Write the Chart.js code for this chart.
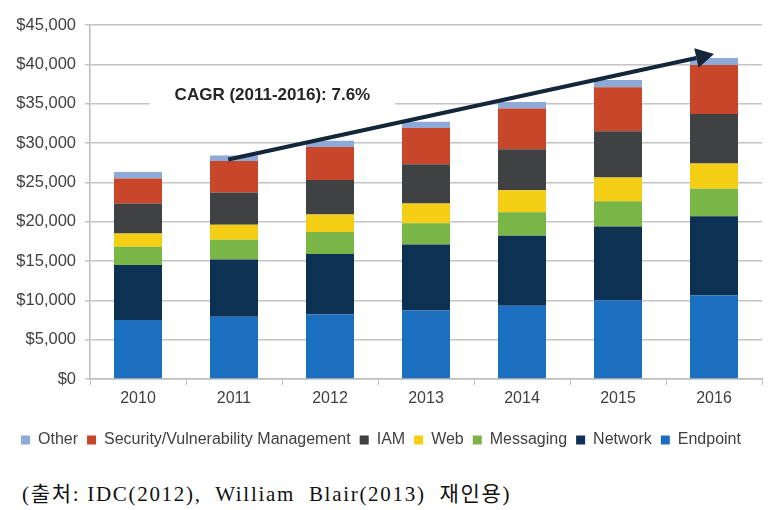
<!DOCTYPE html>
<html>
<head>
<meta charset="utf-8">
<script src="https://cdn.jsdelivr.net/npm/chart.js@4.4.1/dist/chart.umd.min.js"></script>
<style>
  body { margin: 0; background: #fff; }
  #wrap { position: relative; width: 774px; height: 510px; }
  #box { position: absolute; left: 0; top: 0; width: 774px; height: 460px; }
  #cap {
    position: absolute; left: 22px; top: 477px;
    font-family: "Liberation Serif", "Noto Sans CJK KR", serif;
    font-size: 21px; letter-spacing: 1.7px; color: #111; white-space: pre;
  }
</style>
</head>
<body>
<div id="wrap">
  <div id="box"><canvas id="bieudo" width="774" height="460"></canvas></div>
  <div id="cap">(출처: IDC(2012),  William  Blair(2013)  재인용)</div>
</div>
<script>
// du lieu doc tu hinh (don vi: trieu USD)
const nam = ["2010", "2011", "2012", "2013", "2014", "2015", "2016"];
const endpoint  = [7500, 7900, 8200, 8700, 9300, 10000, 10600];
const network   = [7000, 7300, 7700, 8400, 8900, 9400, 10100];
const messaging = [2300, 2500, 2800, 2700, 3000, 3200, 3500];
const web       = [1700, 1900, 2200, 2500, 2800, 3000, 3200];
const iam       = [3800, 4100, 4400, 5000, 5200, 5900, 6300];
const security  = [3200, 4000, 4200, 4600, 5200, 5600, 6200];
const other     = [800, 700, 800, 800, 800, 900, 900];
const cagrText = "CAGR (2011-2016): 7.6%";

const mau = {
  endpoint: "#1c6fbe",
  network: "#0c3153",
  messaging: "#79b547",
  web: "#f4cf16",
  iam: "#3f4143",
  security: "#c8462a",
  other: "#8daad9"
};

const fontChu = "'Liberation Sans', Arial, sans-serif";

// ve mui ten va nhan CAGR theo toa do cua truc
const cagrPlugin = {
  id: "cagr",
  afterDatasetsDraw(chart) {
    const ctx = chart.ctx;
    const x = chart.scales.x, y = chart.scales.y;
    const w = x.getPixelForValue(1) - x.getPixelForValue(0);

    // nhan CAGR, nen trang che duong luoi
    const tx = x.getPixelForValue(1) + w * 0.4;
    const ty = y.getPixelForValue(36000);
    ctx.save();
    ctx.font = "bold 17px " + fontChu;
    ctx.textAlign = "center";
    ctx.textBaseline = "middle";
    const tw = ctx.measureText(cagrText).width;
    ctx.fillStyle = "#fff";
    ctx.fillRect(tx - tw / 2 - 25, ty - 11, tw + 50, 22);
    ctx.fillStyle = "#262626";
    ctx.fillText(cagrText, tx, ty);

    // mui ten
    const x1 = x.getPixelForValue(1) - w * 0.06, y1 = y.getPixelForValue(27900);
    const x2 = x.getPixelForValue(6), y2 = y.getPixelForValue(41300);
    const ang = Math.atan2(y2 - y1, x2 - x1);
    const len = 18, half = 10;
    const bx = x2 - len * Math.cos(ang), by = y2 - len * Math.sin(ang);
    ctx.strokeStyle = "#14263a";
    ctx.lineWidth = 4;
    ctx.beginPath();
    ctx.moveTo(x1, y1);
    ctx.lineTo(bx, by);
    ctx.stroke();
    ctx.fillStyle = "#14263a";
    ctx.beginPath();
    ctx.moveTo(x2, y2);
    ctx.lineTo(bx + half * Math.sin(ang), by - half * Math.cos(ang));
    ctx.lineTo(bx - half * Math.sin(ang), by + half * Math.cos(ang));
    ctx.closePath();
    ctx.fill();
    ctx.restore();
  }
};

function ds(label, data, color) {
  return { label: label, data: data, backgroundColor: color, borderWidth: 0 };
}

const ctx = document.getElementById("bieudo").getContext("2d");
new Chart(ctx, {
  type: "bar",
  data: {
    labels: nam,
    datasets: [
      ds("Endpoint", endpoint, mau.endpoint),
      ds("Network", network, mau.network),
      ds("Messaging", messaging, mau.messaging),
      ds("Web", web, mau.web),
      ds("IAM", iam, mau.iam),
      ds("Security/Vulnerability Management", security, mau.security),
      ds("Other", other, mau.other)
    ]
  },
  options: {
    responsive: false,
    animation: false,
    categoryPercentage: 0.5,
    barPercentage: 1,
    layout: { padding: { top: 25, right: 12, left: 0, bottom: 2 } },
    plugins: {
      tooltip: { enabled: false },
      legend: {
        position: "bottom",
        reverse: true,
        labels: {
          boxWidth: 9,
          boxHeight: 9,
          padding: 9,
          color: "#404040",
          font: { family: fontChu, size: 16 }
        }
      }
    },
    scales: {
      x: {
        stacked: true,
        afterFit(scale) { scale.height = 44; },
        grid: { offset: true, drawOnChartArea: false, drawTicks: true, tickLength: 6, color: "#bdbdbd" },
        border: { color: "#bdbdbd", width: 1.5 },
        ticks: { color: "#404040", padding: 4, font: { family: fontChu, size: 16 } }
      },
      y: {
        stacked: true,
        min: 0,
        max: 45000,
        afterFit(scale) { scale.width = 90; },
        grid: { color: "#c4c4c4", lineWidth: 1.5, tickLength: 5 },
        border: { color: "#bdbdbd", width: 1.5 },
        ticks: {
          stepSize: 5000,
          color: "#404040",
          padding: 9,
          font: { family: fontChu, size: 16.5 },
          callback: v => "$" + v.toLocaleString("en-US")
        }
      }
    }
  },
  plugins: [cagrPlugin]
});
</script>
</body>
</html>
